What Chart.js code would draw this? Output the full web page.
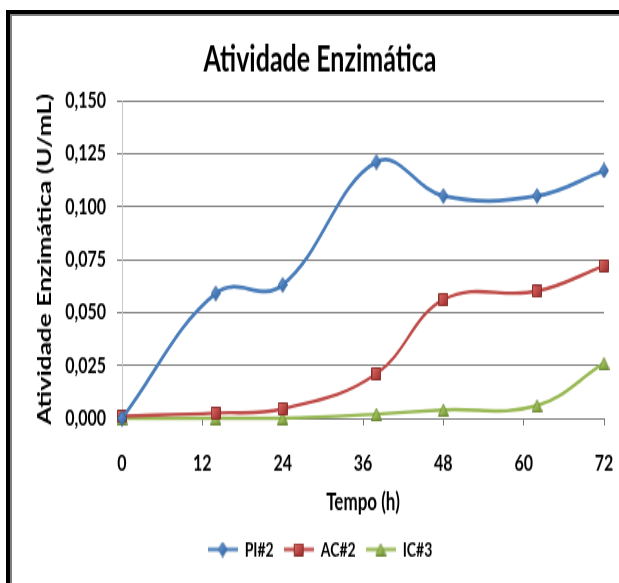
<!DOCTYPE html>
<html>
<head>
<meta charset="utf-8">
<title>Atividade Enzimática</title>
<script src="https://cdn.jsdelivr.net/npm/chart.js@4/dist/chart.umd.min.js"></script>
<style>
  html, body { margin: 0; padding: 0; background: #fff; }
  #wrap { position: relative; width: 619px; height: 583px; overflow: hidden; background: #fff; }
  /* the chart is laid out on a 619x400 canvas and shown stretched to the full height */
  #stretch { position: absolute; left: 0; top: 0; width: 619px; height: 400px;
             transform: scaleY(1.4575); transform-origin: 0 0; }
  #c { display: block; }
  /* double frame on the top and left edges */
  #frame { position: absolute; left: 6px; top: 10px; right: 0; bottom: 0;
           border-top: 4px solid #000; border-left: 4px solid #000; pointer-events: none; }
  #frame div { position: absolute; left: 0; top: 0; right: 0; bottom: 0;
               border-top: 2px solid #7f7f7f; border-left: 2px solid #7f7f7f; }
</style>
</head>
<body>
<div id="wrap">
  <div id="stretch"><canvas id="c" width="619" height="400"></canvas></div>
  <div id="frame"><div></div></div>
</div>
<script>
// Sampling times (h) and enzyme activity (U/mL) per strain
const tempo = [0, 14, 24, 38, 48, 62, 72];
const pi2 = [0.000, 0.059, 0.063, 0.121, 0.105, 0.105, 0.117];
const ac2 = [0.001, 0.0025, 0.0045, 0.021, 0.056, 0.060, 0.072];
const ic3 = [0.000, 0.000, 0.000, 0.002, 0.004, 0.006, 0.026];
const seriesNames = ['PI#2', 'AC#2', 'IC#3'];
const xTicks = [0, 12, 24, 36, 48, 60, 72];
const yTicks = [0, 0.025, 0.05, 0.075, 0.1, 0.125, 0.15];

const FONT = 'Lato, "Open Sans", "Liberation Sans", sans-serif';

const colors = {
  blue:  { line: '#4a7ebb', light: '#79a6dc', dark: '#2b5a94', edge: '#34649e' },
  red:   { line: '#be4b48', light: '#dc726e', dark: '#8e2b28', edge: '#8a2f2c' },
  green: { line: '#98b954', light: '#b7d47a', dark: '#6c8a33', edge: '#6f8c38' }
};

// Bevelled marker drawn on a small canvas, used as a point style image
function marker(shape, w, h, c) {
  const cv = document.createElement('canvas');
  cv.width = w; cv.height = h;
  const ctx = cv.getContext('2d');
  const g = ctx.createLinearGradient(0, 0, w, h);
  g.addColorStop(0, c.light);
  g.addColorStop(0.5, c.line);
  g.addColorStop(1, c.dark);
  ctx.beginPath();
  if (shape === 'diamond') {
    ctx.moveTo(w / 2, 0.5); ctx.lineTo(w - 0.5, h / 2); ctx.lineTo(w / 2, h - 0.5); ctx.lineTo(0.5, h / 2);
  } else if (shape === 'square') {
    ctx.rect(0.5, 0.5, w - 1, h - 1);
  } else {
    ctx.moveTo(w / 2, 0.5); ctx.lineTo(w - 0.5, h - 0.5); ctx.lineTo(0.5, h - 0.5);
  }
  ctx.closePath();
  ctx.fillStyle = g;
  ctx.fill();
  ctx.lineWidth = 1;
  ctx.strokeStyle = c.edge;
  ctx.stroke();
  return cv;
}

// Legend sample: a short line with the marker in the middle
function legendIcon(m, c) {
  const w = 30, h = Math.max(m.height, 4);
  const cv = document.createElement('canvas');
  cv.width = w; cv.height = h;
  const ctx = cv.getContext('2d');
  ctx.strokeStyle = c.line;
  ctx.lineWidth = 2.5;
  ctx.beginPath();
  ctx.moveTo(0, h / 2); ctx.lineTo(w, h / 2);
  ctx.stroke();
  ctx.drawImage(m, (w - m.width) / 2, (h - m.height) / 2);
  return cv;
}

const mBlue = marker('diamond', 10, 11, colors.blue);
const mRed = marker('square', 10, 9, colors.red);
const mGreen = marker('triangle', 11, 9, colors.green);
const legendIcons = [legendIcon(mBlue, colors.blue), legendIcon(mRed, colors.red), legendIcon(mGreen, colors.green)];

const pts = arr => tempo.map((t, i) => ({ x: t, y: arr[i] }));

const GRID = '#7a7a7a';

Chart.defaults.color = '#000';

new Chart(document.getElementById('c'), {
  type: 'line',
  data: {
    datasets: [
      { label: seriesNames[0], data: pts(pi2), borderColor: colors.blue.line, borderWidth: 2.75,
        pointStyle: mBlue, radius: 6, tension: 0.4, clip: false },
      { label: seriesNames[1], data: pts(ac2), borderColor: colors.red.line, borderWidth: 2.4,
        pointStyle: mRed, radius: 6, tension: 0.4, clip: false },
      { label: seriesNames[2], data: pts(ic3), borderColor: colors.green.line, borderWidth: 2.4,
        pointStyle: mGreen, radius: 6, tension: 0.4, clip: false }
    ]
  },
  options: {
    responsive: false,
    animation: false,
    events: [],
    layout: { padding: { left: 36, right: 15, top: 0, bottom: 6 } },
    plugins: {
      title: {
        display: true,
        text: 'Atividade Enzimática',
        color: '#000',
        font: { family: FONT, size: 25, weight: 'bold', lineHeight: 1.2 },
        padding: { top: 26, bottom: 13 }
      },
      legend: {
        position: 'bottom',
        labels: {
          usePointStyle: true,
          pointStyleWidth: 30,
          padding: 10,
          color: '#000',
          font: { family: FONT, size: 14, weight: 'bold' },
          generateLabels(chart) {
            const items = Chart.defaults.plugins.legend.labels.generateLabels(chart);
            items.forEach((it, i) => { it.pointStyle = legendIcons[i]; });
            return items;
          }
        }
      },
      tooltip: { enabled: false }
    },
    scales: {
      x: {
        type: 'linear',
        min: 0, max: 72,
        afterBuildTicks(s) { s.ticks = xTicks.map(v => ({ value: v })); },
        afterFit(s) { s.height = 73; s.paddingLeft = 0; s.paddingRight = 0; },
        grid: { drawOnChartArea: false, drawTicks: true, tickLength: 5, color: GRID },
        border: { display: true, color: GRID },
        ticks: { padding: 16, color: '#000', maxRotation: 0,
                 font: { family: FONT, size: 16, weight: 'bold', lineHeight: 1.2 } },
        title: { display: true, text: 'Tempo (h)', color: '#000',
                 font: { family: FONT, size: 17, weight: 'bold', lineHeight: 1.2 },
                 padding: { top: 0, bottom: 5 } }
      },
      y: {
        type: 'linear',
        min: 0, max: 0.15,
        afterBuildTicks(s) { s.ticks = yTicks.map(v => ({ value: v })); },
        afterFit(s) { s.width = 86; },
        grid: { color: GRID, tickLength: 5, drawTicks: true },
        border: { display: true, color: '#c8c8c8' },
        ticks: { padding: 11, color: '#000',
                 font: { family: FONT, size: 16, weight: 'bold', lineHeight: 1.2 },
                 callback: v => v.toFixed(3).replace('.', ',') },
        title: { display: true, text: 'Atividade Enzimática (U/mL)', color: '#000',
                 font: { family: FONT, size: 18, weight: 'bold', lineHeight: 1 },
                 padding: { top: 0, bottom: 0 } }
      }
    }
  }
});
</script>
</body>
</html>
